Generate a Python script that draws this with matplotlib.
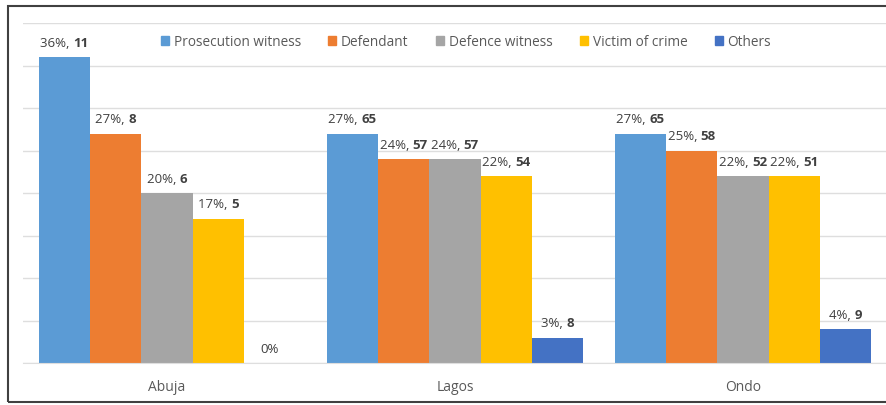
import matplotlib.pyplot as plt
from matplotlib.patches import Rectangle, Patch
from matplotlib.offsetbox import TextArea, HPacker, AnnotationBbox
import numpy as np

cities = ["Abuja", "Lagos", "Ondo"]
series = ["Prosecution witness", "Defendant", "Defence witness", "Victim of crime", "Others"]
colors = ["#5B9BD5", "#ED7D31", "#A5A5A5", "#FFC000", "#4472C4"]

# bar heights in percent, one list per series (Abuja, Lagos, Ondo)
prosecution = [36, 27, 27]
defendant = [27, 24, 25]
defence = [20, 24, 22]
victim = [17, 22, 22]
others = [0, 3, 4]

counts = [
    ["11", "65", "65"],
    ["8", "57", "58"],
    ["6", "57", "52"],
    ["5", "54", "51"],
    ["", "8", "9"],
]

values = [prosecution, defendant, defence, victim, others]

plt.rcParams["font.family"] = ["Open Sans", "DejaVu Sans"]

W, H = 886, 405
fig = plt.figure(figsize=(W / 100, H / 100), dpi=100)
ax = fig.add_axes([23 / W, 42 / H, (W - 23) / W, 340 / H])

x = np.arange(len(cities))
bw = 0.178
for i, (name, vals) in enumerate(zip(series, values)):
    xs = x + (i - 2) * bw
    ax.bar(xs, vals, width=bw, color=colors[i], label=name, zorder=2)
    for j, v in enumerate(vals):
        parts = [TextArea(f"{v}%" + (", " if counts[i][j] else ""),
                          textprops=dict(color="#404040", fontsize=9.5))]
        if counts[i][j]:
            parts.append(TextArea(counts[i][j],
                                  textprops=dict(color="#404040", fontsize=9.5, fontweight="bold")))
        box = HPacker(children=parts, pad=0, sep=0)
        ab = AnnotationBbox(box, (xs[j], v), xybox=(0, 10), xycoords="data",
                            boxcoords="offset points", frameon=False,
                            box_alignment=(0.5, 0.5), annotation_clip=False)
        ax.add_artist(ab)

ax.set_xlim(-0.5, 2.497)
ax.set_ylim(0, 40)
ax.set_yticks(np.arange(0, 41, 5))
ax.yaxis.grid(True, color="#DEDEDE", linewidth=1, zorder=0)
ax.tick_params(axis="y", left=False, labelleft=False)
ax.tick_params(axis="x", bottom=False, pad=9, labelsize=10, labelcolor="#595959")
ax.set_xticks(x)
ax.set_xticklabels(cities)
for s in ["top", "right", "left"]:
    ax.spines[s].set_visible(False)
ax.spines["bottom"].set_color("#DEDEDE")

handles = [Patch(color=c) for c in colors]
fig.legend(handles, series, loc="center", bbox_to_anchor=(466 / W, 1 - 42 / H), ncol=5,
           frameon=False, fontsize=9.8, labelcolor="#595959", handlelength=0.6,
           handleheight=0.6, handletextpad=0.35, columnspacing=2.0)

fig.patches.append(Rectangle((8 / W, 3 / H), 1.0, 396 / H, transform=fig.transFigure,
                             fill=False, edgecolor="#404040", linewidth=1.5))

fig.savefig("out.png", dpi=100)
